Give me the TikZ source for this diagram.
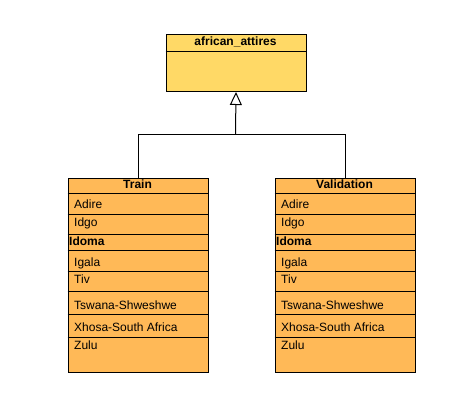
\documentclass[tikz,border=0pt]{standalone}
\usepackage{fontspec}
\setmainfont{Liberation Sans}
\usetikzlibrary{arrows.meta}
\definecolor{topfill}{HTML}{FFD966}
\definecolor{boxfill}{HTML}{FFB957}
\tikzset{
  classbox/.style={draw=black, line width=1pt, inner sep=0pt, anchor=north west},
  itemtext/.style={anchor=base west, inner sep=0pt, font=\fontsize{12}{14}\selectfont},
  headtext/.style={anchor=base, inner sep=0pt, font=\fontsize{12}{14}\selectfont\bfseries},
  sep/.style={line width=1pt},
  conn/.style={line width=1pt}
}
\begin{document}
\begin{tikzpicture}[x=1pt,y=-1pt]
\useasboundingbox (0,0) rectangle (466,418);
% top class
\node[classbox, fill=topfill, minimum width=140pt, minimum height=57pt] (top) at (165.5,34) {};
\draw[sep] (165.5,51) -- (305.5,51);
\node[headtext] (toph) at (235.5,45.3) {african\_attires};
% Train
\node[classbox, fill=boxfill, minimum width=140pt, minimum height=194pt] (train) at (67.5,177.5) {};
\node[headtext] (trainh) at (137.5,188.7) {Train};
\foreach \y in {193.7,214.3,234.7,250.7,271.3,291.7,314.7,337.7}
  \draw[sep] (67.5,\y) -- (207.5,\y);
\node[itemtext] (t1) at (74,208.7) {Adire};
\node[itemtext] (t2) at (74,226.7) {Idgo};
\node[itemtext, font=\fontsize{12}{14}\selectfont\bfseries] (t3) at (69,245.3) {Idoma};
\node[itemtext] (t4) at (74,266) {Igala};
\node[itemtext] (t5) at (74,283.3) {Tiv};
\node[itemtext] (t6) at (74,309) {Tswana-Shweshwe};
\node[itemtext] (t7) at (74,331.3) {Xhosa-South Africa};
\node[itemtext] (t8) at (74,349.7) {Zulu};
% Validation
\node[classbox, fill=boxfill, minimum width=140pt, minimum height=194pt] (valid) at (274.5,177.5) {};
\node[headtext] (validh) at (344.5,188.7) {Validation};
\foreach \y in {193.7,214.3,234.7,250.7,271.3,291.7,314.7,337.7}
  \draw[sep] (274.5,\y) -- (414.5,\y);
\node[itemtext] (v1) at (281,208.7) {Adire};
\node[itemtext] (v2) at (281,226.7) {Idgo};
\node[itemtext, font=\fontsize{12}{14}\selectfont\bfseries] (v3) at (276,245.3) {Idoma};
\node[itemtext] (v4) at (281,266) {Igala};
\node[itemtext] (v5) at (281,283.3) {Tiv};
\node[itemtext] (v6) at (281,309) {Tswana-Shweshwe};
\node[itemtext] (v7) at (281,331.3) {Xhosa-South Africa};
\node[itemtext] (v8) at (281,349.7) {Zulu};
% connectors
\coordinate (join) at (235.5,134.3);
\draw[conn] (train.north) |- (join) -| (valid.north);
\draw[conn, -{Triangle[open, length=13pt, width=12pt]}] (join) -- (top.south);
\end{tikzpicture}
\end{document}
